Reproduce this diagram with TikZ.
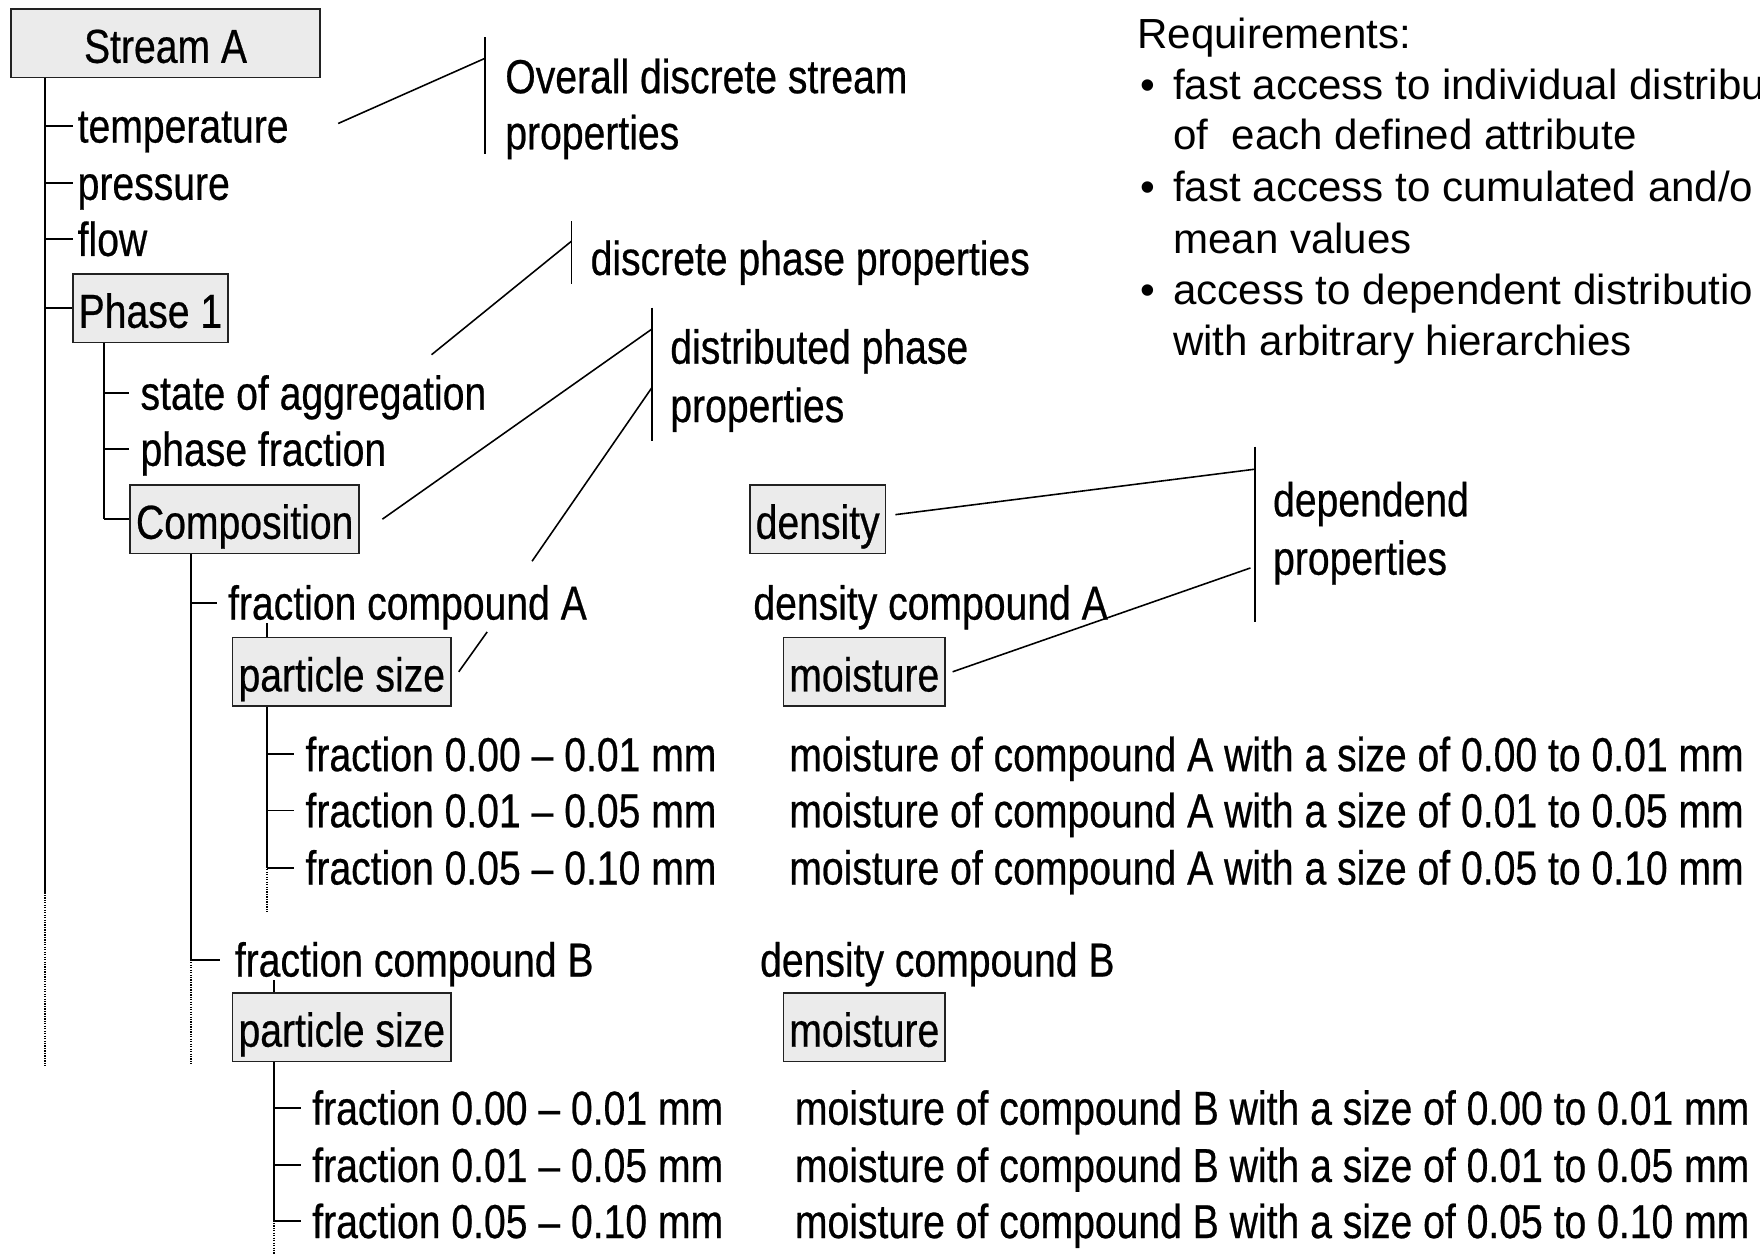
\documentclass[tikz,border=0pt]{standalone}
\usepackage{fontspec}
\setmainfont{Liberation Sans}
\newfontfamily\narrowsans{Liberation Sans}[FakeStretch=0.82,FakeBold=0.5]
\usetikzlibrary{calc}

\definecolor{boxfill}{HTML}{EBEBEB}
\definecolor{boxline}{HTML}{222222}

\tikzset{
  treefont/.style={font=\narrowsans\fontsize{42.5}{50}\selectfont},
  lbl/.style={treefont, anchor=west, inner xsep=4pt, inner ysep=0pt,
              text height=35pt, text depth=5pt},
  box/.style={treefont, draw=boxline, fill=boxfill, line width=1.4pt,
              inner xsep=4pt, inner ysep=0pt, text height=48pt, text depth=13pt},
  reqtxt/.style={font=\fontsize{37.5}{45}\selectfont, anchor=west, inner sep=0pt,
              text height=33pt, text depth=8pt},
  ln/.style={line width=1.6pt},
  thin/.style={line width=1.4pt},
  dotln/.style={line width=1.4pt, dash pattern=on 1.1pt off 1.1pt},
}

\begin{document}
\begin{tikzpicture}[x=1pt,y=-1pt]
\useasboundingbox (0,0) rectangle (1568,1117);
\clip (0,0) rectangle (1568,1117);

% ---------- tree: boxes ----------
\node[box, minimum width=275pt] (stream) at (147.5,38.5) {Stream A};
\node[box, minimum width=138pt] (ph1)    at (134,274.5)  {Phase 1};
\node[box, minimum width=204pt] (comp)   at (218,462.5)  {Composition};
\node[box, minimum width=195pt] (psA)    at (304.5,598.5) {particle size};
\node[box, minimum width=195pt] (psB)    at (304.5,915)   {particle size};

% ---------- tree: plain entries ----------
\node[lbl] (temp) at (65,112) {temperature};
\node[lbl] (pres) at (65,163) {pressure};
\node[lbl] (flow) at (65,213) {flow};
\node[lbl, inner xsep=10pt] (agg) at (115,350) {state of aggregation};
\node[lbl, inner xsep=10pt] (pfr) at (115,400) {phase fraction};
\node[lbl, inner xsep=10pt] (fcA) at (193,537) {fraction compound A};
\node[lbl, inner xsep=13pt] (fcB) at (196,855) {fraction compound B};

\node[lbl, inner xsep=10pt] (fa1) at (262,672) {fraction 0.00 – 0.01 mm};
\node[lbl, inner xsep=10pt] (fa2) at (262,722) {fraction 0.01 – 0.05 mm};
\node[lbl, inner xsep=10pt] (fa3) at (262,773) {fraction 0.05 – 0.10 mm};
\node[lbl, inner xsep=10pt] (fb1) at (268,987)  {fraction 0.00 – 0.01 mm};
\node[lbl, inner xsep=10pt] (fb2) at (268,1038) {fraction 0.01 – 0.05 mm};
\node[lbl, inner xsep=10pt] (fb3) at (268,1088) {fraction 0.05 – 0.10 mm};

% ---------- dependent properties column ----------
\node[box, minimum width=121pt] (dens) at (728.5,462.5) {density};
\node[lbl, inner xsep=2pt] (dcA) at (669,537) {density compound A};
\node[box, minimum width=144pt] (moiA) at (770,598.5) {moisture};
\node[lbl, inner xsep=2pt] (ma1) at (701,672) {moisture of compound A with a size of 0.00 to 0.01 mm};
\node[lbl, inner xsep=2pt] (ma2) at (701,722) {moisture of compound A with a size of 0.01 to 0.05 mm};
\node[lbl, inner xsep=2pt] (ma3) at (701,773) {moisture of compound A with a size of 0.05 to 0.10 mm};
\node[lbl, inner xsep=2pt] (dcB) at (675,855) {density compound B};
\node[box, minimum width=144pt] (moiB) at (770,915) {moisture};
\node[lbl, inner xsep=2pt] (mb1) at (706,987)  {moisture of compound B with a size of 0.00 to 0.01 mm};
\node[lbl, inner xsep=2pt] (mb2) at (706,1038) {moisture of compound B with a size of 0.01 to 0.05 mm};
\node[lbl, inner xsep=2pt] (mb3) at (706,1088) {moisture of compound B with a size of 0.05 to 0.10 mm};

% ---------- tree lines ----------
\coordinate (trunk) at (40,0);
\coordinate (phx)   at (93,0);
\coordinate (cmx)   at (170,0);
\coordinate (pax)   at (238,0);
\coordinate (pbx)   at (244,0);

% stream level
\draw[ln] (stream.south -| trunk) -- (40,795);
\draw[dotln] (40,795) -- (40,950);
\foreach \n in {temp,pres,flow,ph1} \draw[ln] (\n.west -| trunk) -- (\n.west);

% phase level
\draw[ln] (ph1.south -| phx) -- (comp.west -| phx);
\foreach \n in {agg,pfr,comp} \draw[ln] (\n.west -| phx) -- (\n.west);

% composition level
\draw[ln] (comp.south -| cmx) -- (fcB.west -| cmx);
\draw[dotln] (fcB.west -| cmx) -- (170,948);
\foreach \n in {fcA,fcB} \draw[ln] (\n.west -| cmx) -- (\n.west);

% particle size A
\draw[thin] ([yshift=2pt]fcA.south -| pax) -- (psA.north -| pax);
\draw[ln] (psA.south -| pax) -- (fa3.west -| pax);
\draw[dotln] ([yshift=3pt]fa3.west -| pax) -- (238,812);
\foreach \n in {fa1,fa2,fa3} \draw[ln] (\n.west -| pax) -- (\n.west);

% particle size B
\draw[thin] ([yshift=2pt]fcB.south -| pbx) -- (psB.north -| pbx);
\draw[ln] (psB.south -| pbx) -- (fb3.west -| pbx);
\draw[dotln] ([yshift=3pt]fb3.west -| pbx) -- (244,1117);
\foreach \n in {fb1,fb2,fb3} \draw[ln] (\n.west -| pbx) -- (\n.west);

% ---------- annotation brackets ----------
% overall stream properties
\node[lbl, inner xsep=2pt] (ov1) at (448,68)  {Overall discrete stream};
\node[lbl, inner xsep=2pt] (ov2) at (448,118) {properties};
\coordinate (ovT) at (432,33);
\coordinate (ovB) at (432,137);
\coordinate (ovJ) at (432,52);
\draw[thin] (ovT) -- (ovB);
\draw[thin] ([xshift=40pt,yshift=2pt]temp.east) -- (ovJ);

% discrete phase properties
\node[lbl, inner xsep=2pt] (dpp) at (524,230) {discrete phase properties};
\coordinate (dpT) at (509,197);
\coordinate (dpB) at (509,253);
\coordinate (dpJ) at (509,215);
\draw[thin] (dpT) -- (dpB);
\draw[thin] ([xshift=-59pt,yshift=34pt]agg.east) -- (dpJ);

% distributed phase properties
\node[lbl, inner xsep=2pt] (di1) at (595,309) {distributed phase};
\node[lbl, inner xsep=2pt] (di2) at (595,361) {properties};
\coordinate (diT) at (581,274);
\coordinate (diB) at (581,393);
\coordinate (diJ1) at (581,293);
\coordinate (diJ2) at (581,345);
\coordinate (diG1) at (474,500);
\coordinate (diG2) at (434,563);
\draw[thin] (diT) -- (diB);
\draw[thin] ([xshift=20pt]comp.east) -- (diJ1);
\draw[thin] (diJ2) -- (diG1);
\draw[thin] (diG2) -- ([xshift=6pt]psA.east);

% dependent properties
\node[lbl, inner xsep=2pt] (de1) at (1132,445) {dependend};
\node[lbl, inner xsep=2pt] (de2) at (1132,497) {properties};
\coordinate (deT) at (1118,398);
\coordinate (deB) at (1118,554);
\coordinate (deJ1) at (1118,418);
\coordinate (deJ2) at (1114,506);
\draw[thin] (deT) -- (deB);
\draw[thin] ([xshift=8pt,yshift=4pt]dens.east) -- (deJ1);
\draw[thin] ([xshift=6pt]moiA.east) -- (deJ2);

% ---------- requirements ----------
\node[reqtxt] (rq0) at (1013,31) {Requirements:};
\foreach \y/\t [count=\i] in {
    76/{fast access to individual distribu},
    121/{of~ each defined attribute},
    167/{fast access to cumulated and/o},
    213/{mean values},
    259/{access to dependent distributio},
    304/{with arbitrary hierarchies}}
  \node[reqtxt] (rq\i) at (1045,\y) {\t};
\foreach \y/\k in {76/a,167/b,259/c}
  \node[reqtxt] (bul\k) at (1016,\y) {•};
\end{tikzpicture}
\end{document}
